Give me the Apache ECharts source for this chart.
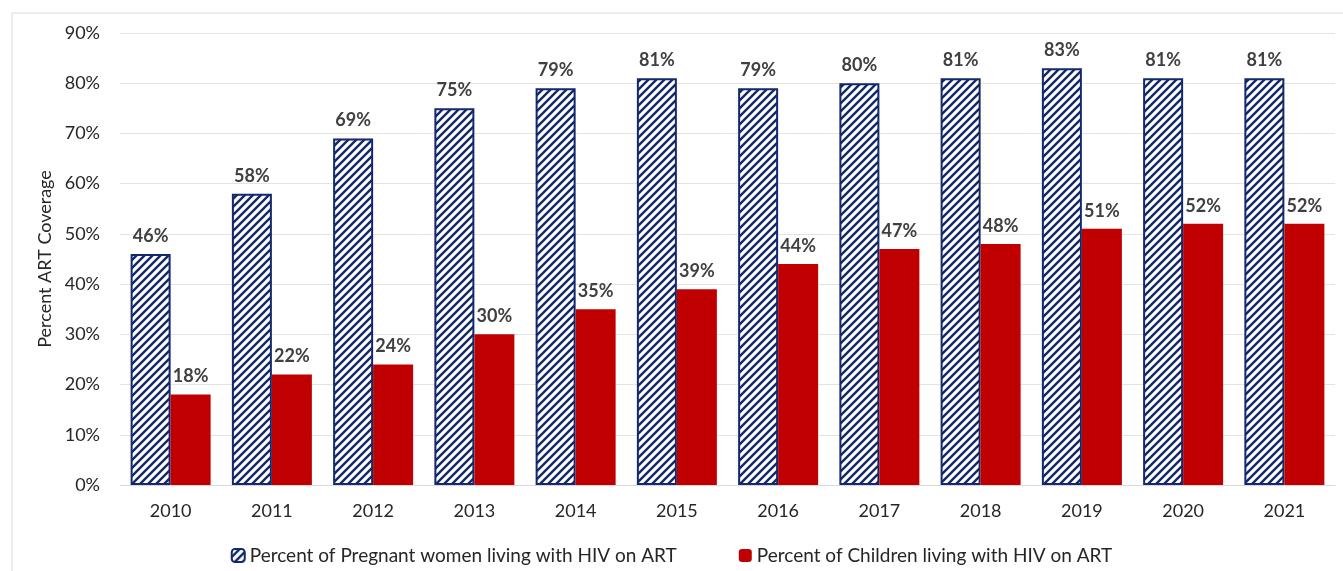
<!DOCTYPE html>
<html>
<head>
<meta charset="utf-8">
<script src="https://cdn.jsdelivr.net/npm/echarts@6/dist/echarts.min.js"></script>
<style>
  html, body { margin: 0; padding: 0; background: #fff; }
  #main { width: 1343px; height: 571px; }
</style>
</head>
<body>
<div id="main"></div>
<script>
// data
const years = ['2010', '2011', '2012', '2013', '2014', '2015', '2016', '2017', '2018', '2019', '2020', '2021']
const pregnant = [46, 58, 69, 75, 79, 81, 79, 80, 81, 83, 81, 81]
const children = [18, 22, 24, 30, 35, 39, 44, 47, 48, 51, 52, 52]
const yTicks = [0, 10, 20, 30, 40, 50, 60, 70, 80, 90]

//---------------斜线填充---------------
function hatch() {
  let c = document.createElement('canvas')
  c.width = 8
  c.height = 8
  let ctx = c.getContext('2d')
  ctx.fillStyle = '#fff'
  ctx.fillRect(0, 0, 8, 8)
  ctx.strokeStyle = '#13296b'
  ctx.lineWidth = 2.4
  ctx.beginPath()
  ctx.moveTo(-1, 9); ctx.lineTo(9, -1)
  ctx.moveTo(-1, 1); ctx.lineTo(1, -1)
  ctx.moveTo(7, 9); ctx.lineTo(9, 7)
  ctx.stroke()
  return c
}

let myChart = echarts.init(document.querySelector('#main'))
const font = 'Lato, "Open Sans", sans-serif'
let option = {
  animation: false,
  textStyle: { fontFamily: font },
  graphic: [{
    type: 'rect',
    shape: { x: 12, y: 13, width: 1340, height: 570 },
    style: { fill: 'none', stroke: '#d9d9d9', lineWidth: 1 },
    silent: true
  }],
  grid: {
    left: 120,
    right: 8,
    top: 33,
    bottom: 86
  },
  legend: {
    top: 541,
    left: 'center',
    itemWidth: 13,
    itemHeight: 13,
    itemGap: 62,
    textStyle: { fontSize: 19, color: '#262626', fontFamily: font }
  },
  xAxis: {
    type: 'category',
    data: years,
    axisTick: { show: false },
    axisLine: { lineStyle: { color: '#d9d9d9' } },
    axisLabel: { fontSize: 18, color: '#262626', margin: 17 }
  },
  yAxis: {
    type: 'value',
    min: yTicks[0],
    max: yTicks[yTicks.length - 1],
    interval: 10,
    name: 'Percent ART Coverage',
    nameLocation: 'middle',
    nameGap: 66,
    nameTextStyle: { fontSize: 18, color: '#262626' },
    axisLabel: { formatter: '{value}%', fontSize: 18, color: '#262626', margin: 20 },
    splitLine: { lineStyle: { color: '#e3e3e3' } }
  },
  series: [
    {
      name: 'Percent of Pregnant women living with HIV on ART',
      type: 'bar',
      data: pregnant,
      barWidth: 40,
      barGap: '0%',
      itemStyle: {
        color: { image: hatch(), repeat: 'repeat' },
        borderColor: '#13296b',
        borderWidth: 2
      },
      label: {
        show: true,
        position: 'top',
        distance: 9,
        formatter: '{c}%',
        fontSize: 18,
        fontWeight: 'bold',
        color: '#404040'
      }
    },
    {
      name: 'Percent of Children living with HIV on ART',
      type: 'bar',
      data: children,
      barWidth: 40,
      itemStyle: { color: '#c00000' },
      label: {
        show: true,
        position: 'top',
        distance: 9,
        formatter: '{c}%',
        fontSize: 18,
        fontWeight: 'bold',
        color: '#404040'
      }
    }
  ]
}
myChart.setOption(option)
</script>
</body>
</html>
